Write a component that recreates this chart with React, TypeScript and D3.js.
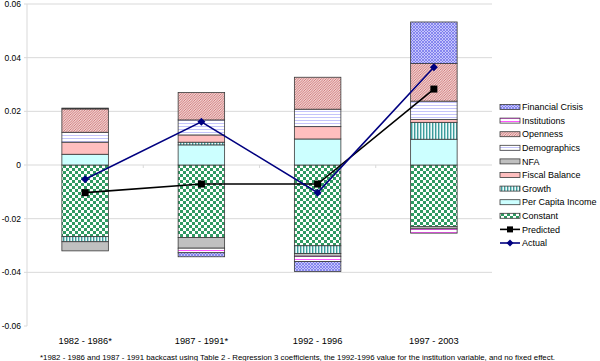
import React from 'react';
import * as d3 from 'd3';

const periods = ['1982 - 1986*', '1987 - 1991*', '1992 - 1996', '1997 - 2003'];

// stacked contributions, Excel series order (bottom of stack first)
const constant = [-0.0267, -0.027, -0.0301, -0.023];
const perCapitaIncome = [0.004, 0.0075, 0.0097, 0.0096];
const growth = [-0.0019, 0.001, -0.0029, 0.0063];
const fiscalBalance = [0.0045, 0.0027, 0.0046, 0.0011];
const nfa = [-0.0034, -0.004, -0.001, -0.0008];
const demographics = [0.0037, 0.0056, 0.0065, 0.0068];
const openness = [0.0087, 0.0102, 0.0119, 0.014];
const institutions = [0, -0.0017, -0.002, -0.0016];
const financialCrisis = [0.0003, -0.0015, -0.0037, 0.0155];

const predicted = [-0.0103, -0.0071, -0.0071, 0.0283];
const actual = [-0.0053, 0.0161, -0.0103, 0.0364];

const yTicks = [0.06, 0.04, 0.02, 0, -0.02, -0.04, -0.06];

const seriesDefs = [
  { key: 'Constant', values: constant, fill: 'url(#p-constant)' },
  { key: 'Per Capita Income', values: perCapitaIncome, fill: '#ccffff' },
  { key: 'Growth', values: growth, fill: 'url(#p-growth)' },
  { key: 'Fiscal Balance', values: fiscalBalance, fill: '#ffbfbf' },
  { key: 'NFA', values: nfa, fill: '#c0c0c0' },
  { key: 'Demographics', values: demographics, fill: 'url(#p-demo)' },
  { key: 'Openness', values: openness, fill: 'url(#p-open)' },
  { key: 'Institutions', values: institutions, fill: 'url(#p-inst)' },
  { key: 'Financial Crisis', values: financialCrisis, fill: 'url(#p-fin)' },
];

const W = 600;
const H = 361;
const font = '"Liberation Sans", Arial, sans-serif';

const App: React.FC = () => {
  const left = 27;
  const right = 492;
  const y = d3.scaleLinear().domain([-0.06, 0.06]).range([326, 4]);
  const x = d3.scaleBand<string>().domain(periods).range([left, right]).padding(0);
  const barW = x.bandwidth() * 0.4;
  const cx = (p: string) => (x(p) || 0) + x.bandwidth() / 2;

  const table = periods.map((p, i) => {
    const row: Record<string, any> = { period: p };
    seriesDefs.forEach(s => { row[s.key] = s.values[i]; });
    return row;
  });
  const stacked = d3.stack<any>()
    .keys(seriesDefs.map(s => s.key))
    .offset(d3.stackOffsetDiverging)(table);

  const predLine = d3.line<number>().x((_, i) => cx(periods[i])).y(d => y(d));

  const legendItems = [...seriesDefs].reverse();
  const legendX = 500;
  const legendY0 = 107;
  const legendStep = 13.6;

  return (
    <div style={{ position: 'fixed', left: 0, top: 0 }}>
      <svg width={W} height={H} style={{ display: 'block', background: '#fff' }} fontFamily={font}>
        <defs>
          <pattern id="p-constant" width={6} height={6} patternUnits="userSpaceOnUse">
            <rect width={6} height={6} fill="#fff" />
            <rect width={3} height={3} fill="#2f9a62" />
            <rect x={3} y={3} width={3} height={3} fill="#2f9a62" />
          </pattern>
          <pattern id="p-growth" width={3} height={3} patternUnits="userSpaceOnUse">
            <rect width={3} height={3} fill="#eefafa" />
            <rect width={1.4} height={3} fill="#3c9c9c" />
          </pattern>
          <pattern id="p-demo" width={3} height={3} patternUnits="userSpaceOnUse">
            <rect width={3} height={3} fill="#fff" />
            <rect width={3} height={1} fill="#c4c4fa" />
          </pattern>
          <pattern id="p-open" width={2.5} height={2.5} patternUnits="userSpaceOnUse">
            <rect width={2.5} height={2.5} fill="#f3d0d0" />
            <path d="M0,2.5 L2.5,0 M-1,1 L1,-1 M1.5,3.5 L3.5,1.5" stroke="#c46a6a" strokeWidth={0.8} />
          </pattern>
          <pattern id="p-inst" width={4} height={3} patternUnits="userSpaceOnUse">
            <rect width={4} height={3} fill="#fff" />
            <path d="M0,2 L1,1 L2,2 L3,1 L4,2" stroke="#ff55ff" strokeWidth={1} fill="none" />
          </pattern>
          <pattern id="p-fin" width={3} height={3} patternUnits="userSpaceOnUse">
            <rect width={3} height={3} fill="#c6c6fb" />
            <path d="M0,3 L3,0 M0,0 L3,3" stroke="#6b6bea" strokeWidth={0.7} />
          </pattern>
        </defs>

        {/* gridlines */}
        {yTicks.filter(t => t !== -0.06).map(t => (
          <line key={t} x1={left} x2={right} y1={y(t)} y2={y(t)} stroke="#d9d9d9" strokeWidth={1} />
        ))}
        {/* category tick marks on zero line */}
        {periods.slice(1).map(p => (
          <line key={p} x1={x(p)} x2={x(p)} y1={y(0)} y2={y(0) + 3} stroke="#d9d9d9" />
        ))}
        {/* value axis */}
        <line x1={left} x2={left} y1={y(0.06)} y2={y(-0.06)} stroke="#d9d9d9" />
        {yTicks.map(t => (
          <g key={t}>
            <line x1={left - 3} x2={left} y1={y(t)} y2={y(t)} stroke="#d9d9d9" />
            <text x={21} y={y(t) + 3} fontSize={8.5} textAnchor="end" fill="#000">
              {t === 0 ? '0' : t.toFixed(2)}
            </text>
          </g>
        ))}

        {/* stacked bars */}
        {stacked.map((layer, si) => (
          <g key={layer.key}>
            {layer.map((d, i) => {
              const h = Math.abs(y(d[0]) - y(d[1]));
              if (h === 0) return null;
              return (
                <rect
                  key={i}
                  x={cx(periods[i]) - barW / 2}
                  y={Math.min(y(d[0]), y(d[1]))}
                  width={barW}
                  height={h}
                  fill={seriesDefs[si].fill}
                  stroke="#3a3a3a"
                  strokeWidth={0.8}
                />
              );
            })}
          </g>
        ))}

        {/* predicted */}
        <path d={predLine(predicted) || ''} fill="none" stroke="#000" strokeWidth={1.6} />
        {predicted.map((v, i) => (
          <rect key={i} x={cx(periods[i]) - 3.5} y={y(v) - 3.5} width={7} height={7} fill="#000" />
        ))}
        {/* actual */}
        <path d={predLine(actual) || ''} fill="none" stroke="#000080" strokeWidth={1.6} />
        {actual.map((v, i) => (
          <path key={i} d={`M${cx(periods[i])},${y(v) - 4}l4,4l-4,4l-4,-4z`} fill="#000080" />
        ))}

        {/* category labels */}
        {periods.map(p => (
          <text key={p} x={cx(p)} y={344} fontSize={9.3} textAnchor="middle" fill="#000">{p}</text>
        ))}
        <text x={40} y={360} fontSize={7} textLength={515} lengthAdjust="spacingAndGlyphs" fill="#000">
          *1982 - 1986 and 1987 - 1991 backcast using Table 2 - Regression 3 coefficients, the 1992-1996 value for the institution variable, and no fixed effect.
        </text>

        {/* legend */}
        {legendItems.map((s, i) => {
          const ly = legendY0 + i * legendStep;
          return (
            <g key={s.key}>
              <rect x={legendX} y={ly - 2.5} width={20} height={5} fill={s.fill} stroke="#3a3a3a" strokeWidth={0.8} />
              <text x={legendX + 22} y={ly + 3.2} fontSize={9} fill="#000">{s.key}</text>
            </g>
          );
        })}
        {(() => {
          const ly1 = legendY0 + legendItems.length * legendStep;
          const ly2 = ly1 + legendStep;
          return (
            <g>
              <line x1={legendX} x2={legendX + 20} y1={ly1} y2={ly1} stroke="#000" strokeWidth={1.6} />
              <rect x={legendX + 7} y={ly1 - 3} width={6} height={6} fill="#000" />
              <text x={legendX + 22} y={ly1 + 3.2} fontSize={9} fill="#000">Predicted</text>
              <line x1={legendX} x2={legendX + 20} y1={ly2} y2={ly2} stroke="#000080" strokeWidth={1.6} />
              <path d={`M${legendX + 10},${ly2 - 3.5}l3.5,3.5l-3.5,3.5l-3.5,-3.5z`} fill="#000080" />
              <text x={legendX + 22} y={ly2 + 3.2} fontSize={9} fill="#000">Actual</text>
            </g>
          );
        })()}
      </svg>
    </div>
  );
};

export default App;
